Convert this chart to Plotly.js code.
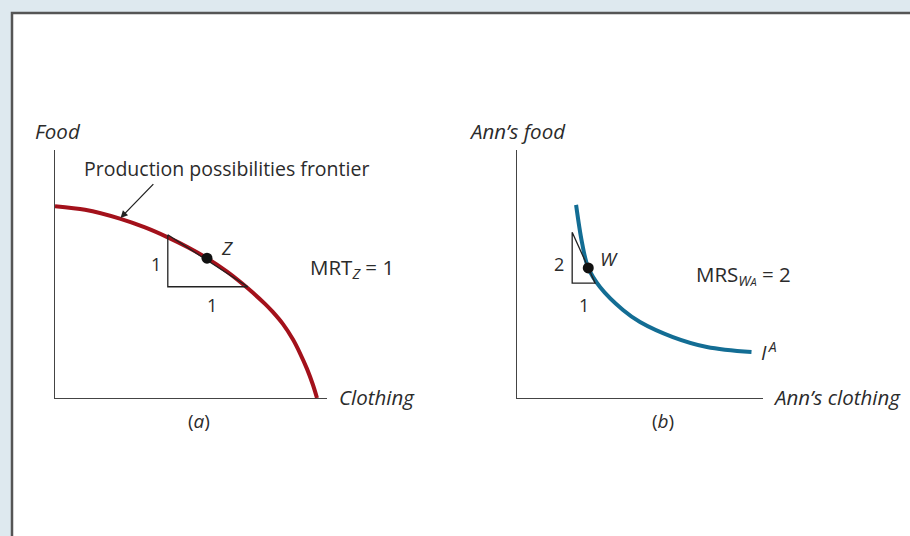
<!DOCTYPE html>
<html>
<head>
<meta charset="utf-8">
<script src="https://cdn.plot.ly/plotly-3.0.1.min.js"></script>
<style>
  html, body { margin: 0; padding: 0; background: #dee9ef; }
  #chart { width: 910px; height: 536px; }
</style>
</head>
<body>
<div id="chart"></div>
<script>
// Panel (a): production possibilities frontier (units: clothing, food)
const ppfClothing = [0, 0.375, 0.81, 1.125, 1.41, 1.66, 1.9, 2.15, 2.41, 2.625, 2.725, 2.85, 2.975, 3.06, 3.15, 3.225, 3.275];
const ppfFood     = [3.69, 3.62, 3.45, 3.28, 3.09, 2.90, 2.69, 2.43, 2.11, 1.81, 1.65, 1.42, 1.125, 0.87, 0.56, 0.25, 0];
const pointZ      = { clothing: 1.9, food: 2.69 };
// slope triangle at Z: run 1, rise 1
const triAClothing = [1.41, 1.41, 2.41, 1.41];
const triAFood     = [3.14, 2.14, 2.14, 3.14];

// Panel (b): Ann's indifference curve I^A
const icClothing = [2.57, 2.83, 3.1, 3.61, 4.61, 5.35, 6.78, 8.26, 10.2];
const icFood     = [7.57, 6.08, 5.1, 4.35, 3.45, 2.98, 2.39, 2.0, 1.8];
const pointW     = { clothing: 3.1, food: 5.1 };
// slope triangle at W: run 1, rise 2
const triBClothing = [2.4, 2.4, 3.4, 2.4];
const triBFood     = [6.5, 4.5, 4.5, 6.5];

const W = 910, H = 536;
const px = x => x / W;
const py = y => 1 - y / H;

const FONT = "'Open Sans', 'DejaVu Sans', sans-serif";
const TXT = '#2b2b2b';

const traces = [
  { x: ppfClothing, y: ppfFood, xaxis: 'x', yaxis: 'y', mode: 'lines',
    line: { color: '#a3111b', width: 4, shape: 'spline', smoothing: 0.8 }, hoverinfo: 'skip' },
  { x: triAClothing, y: triAFood, xaxis: 'x', yaxis: 'y', mode: 'lines',
    line: { color: '#222', width: 1.3 }, hoverinfo: 'skip' },
  { x: [pointZ.clothing], y: [pointZ.food], xaxis: 'x', yaxis: 'y', mode: 'markers',
    marker: { color: '#111', size: 11 }, hoverinfo: 'skip' },

  { x: icClothing, y: icFood, xaxis: 'x2', yaxis: 'y2', mode: 'lines',
    line: { color: '#136d94', width: 4, shape: 'spline' }, hoverinfo: 'skip' },
  { x: triBClothing, y: triBFood, xaxis: 'x2', yaxis: 'y2', mode: 'lines',
    line: { color: '#222', width: 1.3 }, hoverinfo: 'skip' },
  { x: [pointW.clothing], y: [pointW.food], xaxis: 'x2', yaxis: 'y2', mode: 'markers',
    marker: { color: '#111', size: 11 }, hoverinfo: 'skip' }
];

const axisBase = {
  showline: true, linecolor: '#444', linewidth: 1.3,
  showgrid: false, zeroline: false, showticklabels: false, ticks: '',
  fixedrange: true
};

function note(text, x, y, size, opts) {
  return Object.assign({
    text: text, xref: 'paper', yref: 'paper', x: px(x), y: py(y),
    showarrow: false, xanchor: 'center', yanchor: 'middle',
    font: { family: FONT, size: size, color: TXT }
  }, opts || {});
}

const annotations = [
  note('<i>Food</i>', 33, 131, 20.5, { xanchor: 'left' }),
  note('Production possibilities frontier', 82, 168, 19.5, { xanchor: 'left' }),
  note('<i>Z</i>', 227, 248, 19),
  note('1', 156, 264, 18),
  note('1', 212, 305, 18),
  note('MRT<sub><i>Z</i></sub> = 1', 308, 268, 20.5, { xanchor: 'left' }),
  note('<i>Clothing</i>', 337, 397, 20.5, { xanchor: 'left' }),
  note('(<i>a</i>)', 199, 421, 19),

  note('<i>Ann\u2019s food</i>', 467, 131, 20.5, { xanchor: 'left' }),
  note('<i>W</i>', 609, 259, 19),
  note('2', 559, 264, 18),
  note('1', 584, 305, 18),
  note('MRS<sub><i>W<span style="font-size:11px">A</span></i></sub> = 2', 694, 275, 20.5, { xanchor: 'left' }),
  note('<i>I</i><sup>\u2009<i>A</i></sup>', 759, 351, 20, { xanchor: 'left' }),
  note('<i>Ann\u2019s clothing</i>', 771, 397, 20.5, { xanchor: 'left' }),
  note('(<i>b</i>)', 663, 421, 19),

  // pointer from the label to the frontier
  { x: ppfClothing[2], y: ppfFood[2], xref: 'x', yref: 'y', text: '',
    showarrow: true, arrowhead: 2, arrowsize: 1.1, arrowwidth: 1.3, arrowcolor: '#222',
    ax: 35, ay: -36, standoff: 1 }
];

const layout = {
  width: W, height: H,
  margin: { l: 0, r: 0, t: 0, b: 0 },
  paper_bgcolor: '#dee9ef', plot_bgcolor: 'rgba(0,0,0,0)',
  showlegend: false,
  xaxis:  Object.assign({}, axisBase, { domain: [px(55), px(327)], range: [0, 3.4], anchor: 'y' }),
  yaxis:  Object.assign({}, axisBase, { domain: [py(398), py(150)], range: [0, 4.77], anchor: 'x' }),
  xaxis2: Object.assign({}, axisBase, { domain: [px(517), px(763)], range: [0, 10.7], anchor: 'y2' }),
  yaxis2: Object.assign({}, axisBase, { domain: [py(398), py(150)], range: [0, 9.72], anchor: 'x2' }),
  shapes: [
    { type: 'rect', xref: 'paper', yref: 'paper', layer: 'below',
      x0: px(12), x1: 1.05, y0: -0.05, y1: py(13),
      fillcolor: '#ffffff', line: { color: '#555', width: 2.5 } }
  ],
  annotations: annotations
};

Plotly.newPlot('chart', traces, layout, { displayModeBar: false, staticPlot: true });
</script>
</body>
</html>
